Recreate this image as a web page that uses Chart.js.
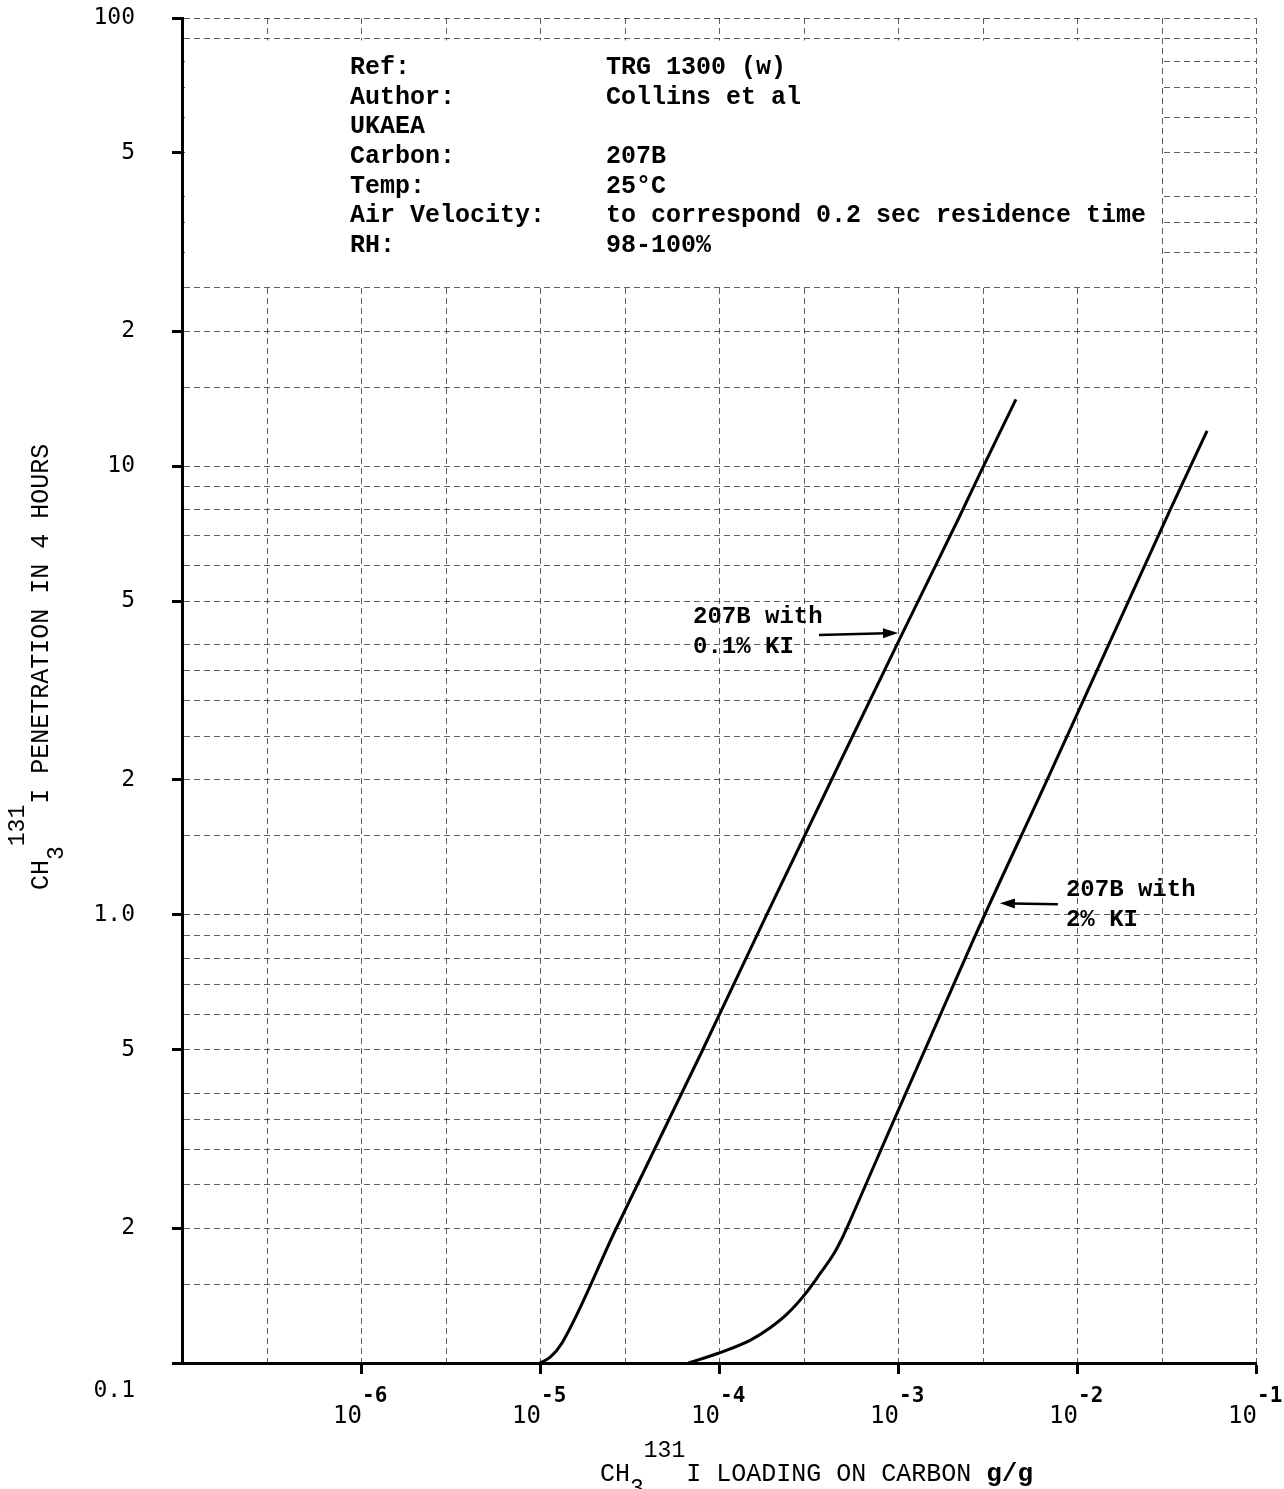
<!DOCTYPE html>
<html>
<head>
<meta charset="utf-8">
<title>CH3 131I penetration vs loading on carbon</title>
<script src="https://cdn.jsdelivr.net/npm/chart.js@4.4.1/dist/chart.umd.min.js"></script>
<style>
  html, body { margin: 0; padding: 0; background: #fff; }
  canvas { display: block; }
</style>
</head>
<body>
<canvas id="chart" width="1284" height="1489"></canvas>
<script>
// 207B with 0.1% KI: loading on carbon (g/g) vs 4-hour penetration (%)
const lowKiLoading = [1.0e-5, 1.14e-5, 1.33e-5, 2.64e-5, 8.0e-5, 1.87e-4, 4.8e-4, 1.08e-3, 2.2e-3, 3.0e-3, 4.56e-3];
const lowKiPenetration = [0.100, 0.103, 0.111, 0.198, 0.494, 1.01, 2.21, 4.31, 7.71, 10.0, 14.1];

// 207B with 2% KI
const highKiLoading = [6.76e-5, 9.82e-5, 1.50e-4, 1.94e-4, 2.42e-4, 3.05e-4, 3.70e-4, 4.37e-4, 4.91e-4, 5.44e-4, 6.78e-4, 2.65e-3, 6.89e-3, 1.49e-2, 3.27e-2, 5.33e-2];
const highKiPenetration = [0.100, 0.105, 0.1125, 0.120, 0.129, 0.143, 0.159, 0.175, 0.191, 0.209, 0.256, 0.883, 2.02, 3.97, 7.90, 12.0];

// Axis ticks and labels
const yTickValues = [0.1, 0.2, 0.5, 1, 2, 5, 10, 20, 50, 100];
const yTickLabels = ['0.1', '2', '5', '1.0', '2', '5', '10', '2', '5', '100'];
const yGridMantissas = [1, 1.5, 2, 2.5, 3, 3.5, 4, 5, 6, 7, 8, 9];
const xTickValues = [1e-6, 1e-5, 1e-4, 1e-3, 1e-2, 1e-1];
const xTickExponents = ['-6', '-5', '-4', '-3', '-2', '-1'];
const xGridMantissas = [1, 3];

// Test conditions
const infoLabels = ['Ref:', 'Author:', 'UKAEA', 'Carbon:', 'Temp:', 'Air Velocity:', 'RH:'];
const infoValues = ['TRG 1300 (w)', 'Collins et al', '', '207B', '25°C', 'to correspond 0.2 sec residence time', '98-100%'];

// Curve callouts: arrow tip on the curve (data units) and text lines
const lowKiCallout = { x: 1.0e-3, y: 4.25, lines: ['207B with', '0.1% KI'] };
const highKiCallout = { x: 3.71e-3, y: 1.06, lines: ['207B with', '2% KI'] };

function gridValues(mantissas, lo, hi) {
  const out = [];
  for (let e = lo; e < hi; e++) {
    for (const m of mantissas) out.push(Number((m * Math.pow(10, e)).toPrecision(6)));
  }
  out.push(Number(Math.pow(10, hi).toPrecision(6)));
  return out;
}
const yGrid = gridValues(yGridMantissas, -1, 2);
const xGrid = gridValues(xGridMantissas, -7, -1);

function findTick(list, v) {
  for (let i = 0; i < list.length; i++) {
    if (Math.abs(Math.log10(list[i]) - Math.log10(v)) < 1e-6) return i;
  }
  return -1;
}

const GRID_COLOR = 'rgba(0,0,0,0.62)';
const GRID_DASH = [6, 4];
const MONO = "'DejaVu Sans Mono', monospace";
const TYPE = "'Liberation Mono', 'Courier New', monospace";

function drawRuns(ctx, runs, x0, y0) {
  let x = x0;
  for (const r of runs) {
    ctx.font = r.font;
    ctx.fillText(r.text, x, y0 + (r.dy || 0));
    x += ctx.measureText(r.text).width + (r.gap || 0);
  }
}

function drawArrow(ctx, x1, y1, x2, y2) {
  const ang = Math.atan2(y2 - y1, x2 - x1);
  const len = 15, half = 5;
  ctx.save();
  ctx.strokeStyle = '#000';
  ctx.fillStyle = '#000';
  ctx.lineWidth = 2.5;
  ctx.beginPath();
  ctx.moveTo(x1, y1);
  ctx.lineTo(x2 - Math.cos(ang) * len * 0.8, y2 - Math.sin(ang) * len * 0.8);
  ctx.stroke();
  ctx.beginPath();
  ctx.moveTo(x2, y2);
  ctx.lineTo(x2 - Math.cos(ang) * len - Math.sin(ang) * half, y2 - Math.sin(ang) * len + Math.cos(ang) * half);
  ctx.lineTo(x2 - Math.cos(ang) * len + Math.sin(ang) * half, y2 - Math.sin(ang) * len - Math.cos(ang) * half);
  ctx.closePath();
  ctx.fill();
  ctx.restore();
}

const decorations = {
  id: 'decorations',
  beforeDatasetsDraw(chart) {
    const { ctx, chartArea: a, scales: { x, y } } = chart;
    // blank panel behind the test conditions
    const right = x.getPixelForValue(3e-2) - 2;
    const top = y.getPixelForValue(90) + 2;
    const bottom = y.getPixelForValue(25) - 2;
    ctx.save();
    ctx.fillStyle = '#fff';
    ctx.fillRect(a.left + 3, top, right - a.left - 3, bottom - top);
    ctx.restore();
  },
  afterDraw(chart) {
    const { ctx, chartArea: a, scales: { x, y } } = chart;
    ctx.save();
    ctx.fillStyle = '#000';

    // test conditions
    ctx.font = 'bold 25px ' + TYPE;
    ctx.textBaseline = 'middle';
    ctx.textAlign = 'left';
    infoLabels.forEach((t, i) => {
      const yy = a.top + 50 + i * 29.6;
      ctx.fillText(t, 350, yy);
      if (infoValues[i]) ctx.fillText(infoValues[i], 606, yy);
    });

    // callouts
    const tip1 = { x: x.getPixelForValue(lowKiCallout.x), y: y.getPixelForValue(lowKiCallout.y) };
    drawArrow(ctx, tip1.x - 79, tip1.y + 2, tip1.x, tip1.y);
    ctx.font = 'bold 24px ' + TYPE;
    ctx.fillText(lowKiCallout.lines[0], tip1.x - 205, tip1.y - 16);
    ctx.fillText(lowKiCallout.lines[1], tip1.x - 205, tip1.y + 14);

    const tip2 = { x: x.getPixelForValue(highKiCallout.x), y: y.getPixelForValue(highKiCallout.y) };
    drawArrow(ctx, tip2.x + 58, tip2.y + 1, tip2.x, tip2.y);
    ctx.fillText(highKiCallout.lines[0], tip2.x + 66, tip2.y - 13);
    ctx.fillText(highKiCallout.lines[1], tip2.x + 66, tip2.y + 17);

    // x tick labels as powers of ten
    ctx.textBaseline = 'alphabetic';
    xTickValues.forEach((v, i) => {
      const px = x.getPixelForValue(v);
      ctx.font = '24px ' + MONO;
      ctx.textAlign = 'right';
      ctx.fillText('10', px + 1, a.bottom + 60);
      ctx.font = 'bold 21px ' + MONO;
      ctx.textAlign = 'left';
      ctx.fillText(xTickExponents[i], px + 1, a.bottom + 39);
    });

    // axis titles
    ctx.textAlign = 'left';
    const base = '25px ' + TYPE;
    const small = '23px ' + TYPE;
    drawRuns(ctx, [
      { text: 'CH', font: base },
      { text: '3', font: small, dy: 14 },
      { text: '131', font: small, dy: -24, gap: 1 },
      { text: 'I LOADING ON CARBON ', font: base },
      { text: 'g/g', font: 'bold 26px ' + TYPE }
    ], 600, a.bottom + 118);

    ctx.save();
    ctx.translate(48, a.bottom - 473);
    ctx.rotate(-Math.PI / 2);
    drawRuns(ctx, [
      { text: 'CH', font: base },
      { text: '3', font: small, dy: 15 },
      { text: '131', font: small, dy: -24, gap: 1 },
      { text: 'I PENETRATION IN 4 HOURS', font: base }
    ], 0, 0);
    ctx.restore();

    ctx.restore();
  }
};

const curveStyle = {
  borderColor: '#000',
  borderWidth: 3,
  pointRadius: 0,
  fill: false,
  cubicInterpolationMode: 'monotone'
};

function keepPlotEdges(s) {
  s.paddingTop = 0;
  s.paddingBottom = 0;
  s.paddingLeft = 0;
  s.paddingRight = 0;
}

new Chart(document.getElementById('chart'), {
  type: 'line',
  data: {
    datasets: [
      Object.assign({ label: '207B with 0.1% KI', data: lowKiLoading.map((v, i) => ({ x: v, y: lowKiPenetration[i] })) }, curveStyle),
      Object.assign({ label: '207B with 2% KI', data: highKiLoading.map((v, i) => ({ x: v, y: highKiPenetration[i] })) }, curveStyle)
    ]
  },
  options: {
    responsive: false,
    animation: false,
    devicePixelRatio: 1,
    layout: { padding: { top: 18, right: 28, left: 0, bottom: 0 } },
    plugins: { legend: { display: false }, tooltip: { enabled: false } },
    scales: {
      x: {
        type: 'logarithmic',
        min: 1e-7,
        max: 1e-1,
        afterBuildTicks: s => { s.ticks = xGrid.map(v => ({ value: v })); },
        afterFit: s => { s.height = 126; keepPlotEdges(s); },
        ticks: { display: false, autoSkip: false },
        grid: {
          color: GRID_COLOR,
          lineWidth: 1,
          tickLength: 11,
          tickWidth: 3,
          tickColor: c => (c.tick && findTick(xTickValues, c.tick.value) >= 0 ? '#000' : 'rgba(0,0,0,0)')
        },
        border: { display: true, color: '#000', width: 3, dash: GRID_DASH }
      },
      y: {
        type: 'logarithmic',
        min: 0.1,
        max: 100,
        afterBuildTicks: s => { s.ticks = yGrid.map(v => ({ value: v })); },
        afterFit: s => { s.width = 182; keepPlotEdges(s); },
        ticks: {
          autoSkip: false,
          padding: 37,
          color: '#000',
          font: { family: MONO, size: 23 },
          callback: v => {
            const i = findTick(yTickValues, v);
            if (i < 0) return '';
            return i === 0 ? ['', '', yTickLabels[0]] : yTickLabels[i];
          }
        },
        grid: {
          color: GRID_COLOR,
          lineWidth: 1,
          tickLength: 10,
          tickWidth: 3,
          tickColor: c => (c.tick && findTick(yTickValues, c.tick.value) >= 0 ? '#000' : 'rgba(0,0,0,0)')
        },
        border: { display: true, color: '#000', width: 3, dash: GRID_DASH }
      }
    }
  },
  plugins: [decorations]
});
</script>
</body>
</html>
